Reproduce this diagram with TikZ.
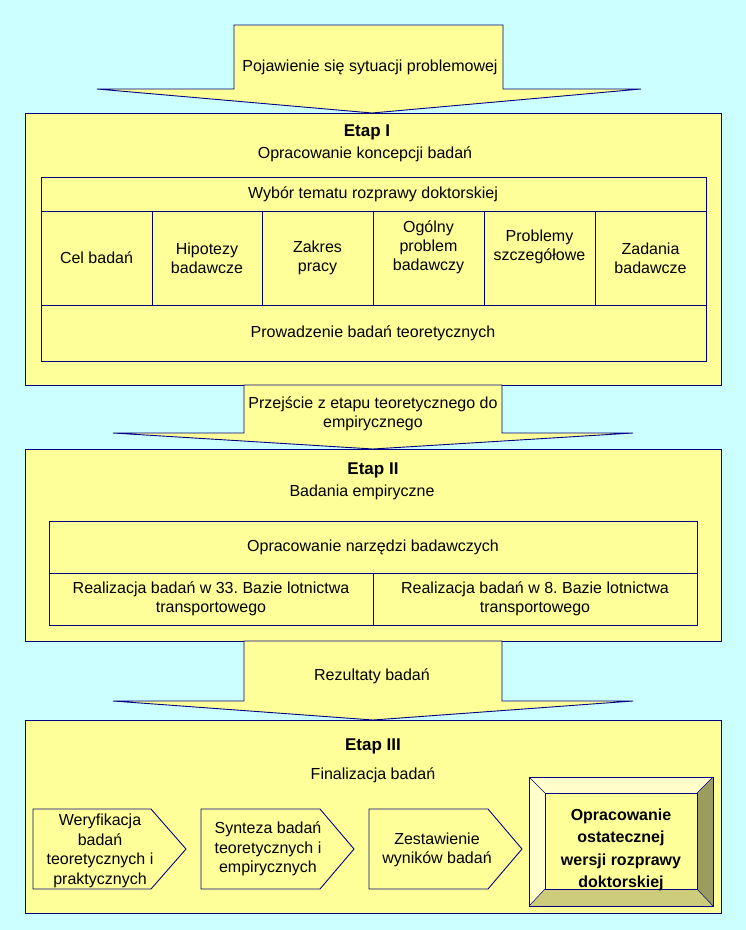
\documentclass[tikz,border=0pt]{standalone}
\usepackage{fontspec}
\setmainfont{Liberation Sans}
\definecolor{tlo}{HTML}{CCFFFF}
\definecolor{zolty}{HTML}{FFFF99}
\definecolor{granat}{HTML}{000080}
\definecolor{jasny}{HTML}{FFFFCC}
\definecolor{ciemny}{HTML}{9C9C5E}
\definecolor{sredni}{HTML}{CCCC7A}
\tikzset{
  ramka/.style={draw=granat, fill=zolty, line width=0.9pt},
  tekst/.style={align=center, font=\fontsize{16}{18.8}\selectfont, inner sep=0pt},
  etap/.style={align=center, font=\fontsize{17}{19}\selectfont\bfseries, inner sep=0pt},
  krok/.style={tekst, font=\fontsize{16}{19.5}\selectfont},
  wynik/.style={align=center, font=\fontsize{16}{22.5}\selectfont\bfseries, inner sep=0pt},
  cienka/.style={draw=granat, line width=0.5pt}
}
\begin{document}
\begin{tikzpicture}[x=1pt,y=-1pt]
\useasboundingbox (0,0) rectangle (746,930);
\fill[tlo] (0,0) rectangle (746,930);
% strzalka 1
\draw[ramka] (234,25)--(503,25)--(503,89)--(641,89)--(372,113)--(97,89)--(234,89)--cycle;
\node[tekst] (sytuacja) at (370,67) {Pojawienie się sytuacji problemowej};
% etap I
\draw[ramka] (25,113) rectangle (721,385);
\node[etap] (etap1) at (367,132) {Etap I};
\node[tekst] (koncepcja) at (365,154) {Opracowanie koncepcji badań};
\draw[ramka] (41,177) rectangle (706,361);
\draw[ramka] (41,211)--(706,211) (41,305)--(706,305);
\foreach \x in {152,262,373,484,595}
  \draw[ramka] (\x,211)--(\x,305);
\node[tekst] (temat) at (373,194) {Wybór tematu rozprawy doktorskiej};
\node[tekst] (cel) at (96.5,258) {Cel badań};
\node[tekst] (hipotezy) at (207,258) {Hipotezy\\badawcze};
\node[tekst] (zakres) at (317.5,258) {Zakres\\pracy};
\node[tekst] (ogolny) at (428.5,247) {Ogólny\\problem\\badawczy};
\node[tekst] (szczegolowe) at (539.5,247) {Problemy\\szczegółowe};
\node[tekst] (zadania) at (650.5,258) {Zadania\\badawcze};
\node[tekst] (teoria) at (373,333) {Prowadzenie badań teoretycznych};
% strzalka 2
\draw[ramka] (244,385)--(502,385)--(502,433)--(633,433)--(373,449)--(113,433)--(244,433)--cycle;
\node[tekst] (przejscie) at (373,414) {Przejście z etapu teoretycznego do\\empirycznego};
% etap II
\draw[ramka] (25,449) rectangle (721,641);
\node[etap] (etap2) at (373,470) {Etap II};
\node[tekst] (empiria) at (362,492) {Badania empiryczne};
\draw[ramka] (49,521) rectangle (697,625);
\draw[ramka] (49,573)--(697,573) (373,573)--(373,625);
\node[tekst] (narzedzia) at (373,547) {Opracowanie narzędzi badawczych};
\node[tekst] (baza33) at (211,599) {Realizacja badań w 33.\ Bazie lotnictwa\\transportowego};
\node[tekst] (baza8) at (535,599) {Realizacja badań w 8.\ Bazie lotnictwa\\transportowego};
% strzalka 3
\draw[ramka] (244,641)--(502,641)--(502,701)--(633,701)--(373,720)--(113,701)--(244,701)--cycle;
\node[tekst] (rezultaty) at (372,676) {Rezultaty badań};
% etap III
\draw[ramka] (25,720) rectangle (721,913);
\node[etap] (etap3) at (373,746) {Etap III};
\node[tekst] (finalizacja) at (373,775) {Finalizacja badań};
\draw[ramka] (33,809)--(151,809)--(186,849)--(151,889)--(33,889)--cycle;
\draw[ramka] (201,809)--(320,809)--(354,849)--(320,889)--(201,889)--cycle;
\draw[ramka] (369,809)--(488,809)--(522,849)--(488,889)--(369,889)--cycle;
\node[krok] (weryfikacja) at (100,851) {Weryfikacja\\badań\\teoretycznych i\\praktycznych};
\node[krok] (synteza) at (268,849) {Synteza badań\\teoretycznych i\\empirycznych};
\node[krok] (zestawienie) at (437,850) {Zestawienie\\wyników badań};
% ramka fazowana
\fill[jasny] (529,777)--(713,777)--(697,793)--(545,793)--cycle;
\fill[jasny] (529,777)--(545,793)--(545,889)--(529,906)--cycle;
\fill[ciemny] (713,777)--(713,906)--(697,889)--(697,793)--cycle;
\fill[sredni] (529,906)--(713,906)--(697,889)--(545,889)--cycle;
\draw[ramka] (545,793) rectangle (697,889);
\draw[cienka] (529,777)--(545,793) (713,777)--(697,793) (529,906)--(545,889) (713,906)--(697,889);
\draw[draw=granat, line width=0.9pt] (529,777) rectangle (713,906);
\node[wynik] (wersja) at (621,850) {Opracowanie\\ostatecznej\\wersji rozprawy\\doktorskiej};
\end{tikzpicture}
\end{document}
